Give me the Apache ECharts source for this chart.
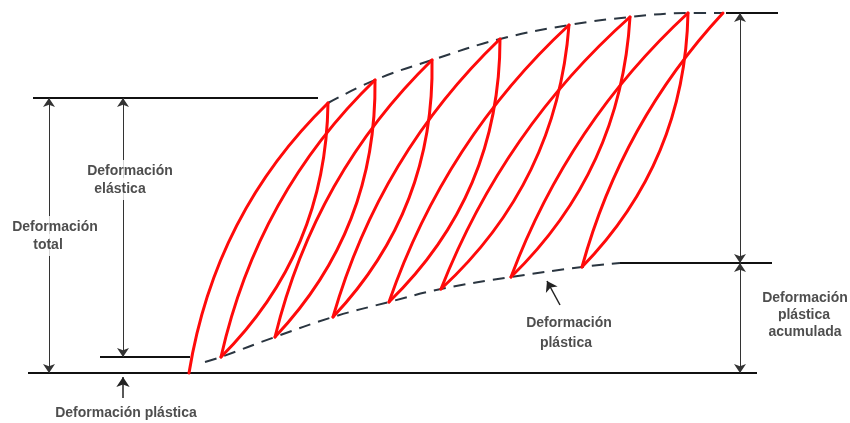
<!DOCTYPE html>
<html><head><meta charset="utf-8">
<script src="https://cdn.jsdelivr.net/npm/echarts@6/dist/echarts.min.js"></script>
<style>html,body{margin:0;padding:0;background:#fff}#c{width:850px;height:423px}</style>
</head><body><div id="c"></div>
<script>
// Valleys: start of each loading branch (x, deformation above baseline)
const valleyX = [189, 221, 275, 333, 389, 441, 511, 582];
const valleyY = [0, 16, 36, 56, 71, 84, 96, 106];
// Peaks: end of each loading branch
const peakX = [328, 375, 432, 500, 569, 630, 688, 723];
const peakY = [270, 293, 313, 334, 348, 356, 360, 360];
// Bend (control) points of loading branches valley[i] -> peak[i]
const loadCtrlX = [215, 258, 315, 380, 445, 504, 569, 622];
const loadCtrlY = [160, 180, 199, 219, 233, 244, 250, 251];
// Bend (control) points of unloading branches peak[i] -> valley[i+1]
const unloadCtrlX = [326, 377, 435, 500, 557, 621, 685];
const unloadCtrlY = [121, 144, 164, 179, 191, 203, 212];
// Lower (plastic) envelope
const lowerEnvX = [205, 221, 275, 333, 389, 441, 511, 582, 620];
const lowerEnvY = [11, 16, 36, 56, 71, 84, 96, 106, 110];
// Horizontal reference lines
const refX1 = [33, 100, 28, 726, 620];
const refX2 = [318, 190, 757, 778, 772];
const refY = [275, 16, 0, 360, 110];
// Double-headed dimension arrows
const dimX = [49, 123, 740, 740];
const dimY1 = [0, 16, 110, 0];
const dimY2 = [275, 275, 360, 110];
// Single pointer arrows
const ptrFromX = [123, 560];
const ptrFromY = [-25, 68];
const ptrToX = [123, 547];
const ptrToY = [-4, 92];
// Labels
const labelText = ['Deformación', 'total', 'Deformación', 'elástica', 'Deformación plástica',
  'Deformación', 'plástica', 'Deformación', 'plástica', 'acumulada'];
const labelX = [55, 48, 130, 120, 126, 569, 566, 805, 804, 805];
const labelY = [146, 128, 202, 184, -40, 50, 30, 75, 58, 41];

const curves = [];
for (let i = 0; i < peakX.length; i++) {
  curves.push([valleyX[i], valleyY[i], loadCtrlX[i], loadCtrlY[i], peakX[i], peakY[i]]);
  if (i < unloadCtrlX.length) {
    curves.push([peakX[i], peakY[i], unloadCtrlX[i], unloadCtrlY[i], valleyX[i + 1], valleyY[i + 1]]);
  }
}
const pts = (xs, ys) => xs.map((x, i) => [x, ys[i]]);

const chart = echarts.init(document.getElementById('c'));
const font = { fontFamily: 'Liberation Sans, Arial, sans-serif', fontWeight: 'bold', fontSize: 14, color: '#222' };
const dash = { color: '#2a3540', width: 2, type: [12, 8] };
chart.setOption({
  animation: false,
  grid: { left: 0, right: 0, top: 0, bottom: 0 },
  xAxis: { type: 'value', min: 0, max: 850, show: false },
  yAxis: { type: 'value', min: -50, max: 373, show: false },
  series: [
    {
      type: 'lines', coordinateSystem: 'cartesian2d', z: 1,
      lineStyle: { color: '#111', width: 2, opacity: 1 },
      symbol: 'none',
      data: refX1.map((x, i) => ({ coords: [[x, refY[i]], [refX2[i], refY[i]]] }))
    },
    {
      type: 'lines', coordinateSystem: 'cartesian2d', z: 1,
      lineStyle: { color: '#333', width: 1, opacity: 1 },
      symbol: ['arrow', 'arrow'], symbolSize: 9,
      data: dimX.map((x, i) => ({ coords: [[x, dimY1[i]], [x, dimY2[i]]] }))
    },
    {
      type: 'lines', coordinateSystem: 'cartesian2d', z: 1,
      lineStyle: { color: '#222', width: 1.5, opacity: 1 },
      symbol: ['none', 'arrow'], symbolSize: 10,
      data: ptrFromX.map((x, i) => ({ coords: [[x, ptrFromY[i]], [ptrToX[i], ptrToY[i]]] }))
    },
    {
      type: 'line', z: 2, smooth: 0.4, symbol: 'none',
      lineStyle: dash,
      data: pts(peakX, peakY)
    },
    {
      type: 'line', z: 2, smooth: 0.4, symbol: 'none',
      lineStyle: dash,
      data: pts(lowerEnvX, lowerEnvY)
    },
    {
      type: 'custom', z: 3,
      encode: { x: [0, 2, 4], y: [1, 3, 5] },
      renderItem: function (params, api) {
        const s = api.coord([api.value(0), api.value(1)]);
        const c = api.coord([api.value(2), api.value(3)]);
        const e = api.coord([api.value(4), api.value(5)]);
        return {
          type: 'bezierCurve',
          shape: { x1: s[0], y1: s[1], cpx1: c[0], cpy1: c[1], x2: e[0], y2: e[1] },
          style: { stroke: '#ff0a0a', lineWidth: 3, fill: 'none', lineCap: 'round' }
        };
      },
      data: curves
    },
    {
      type: 'scatter', z: 5, symbolSize: 0,
      itemStyle: { color: 'rgba(0,0,0,0)' },
      label: Object.assign({ show: true, position: 'inside', formatter: p => p.name,
        backgroundColor: '#fff', padding: [4, 2] }, font),
      data: labelText.map((t, i) => ({ name: t, value: [labelX[i], labelY[i]] }))
    }
  ]
});
</script></body></html>
